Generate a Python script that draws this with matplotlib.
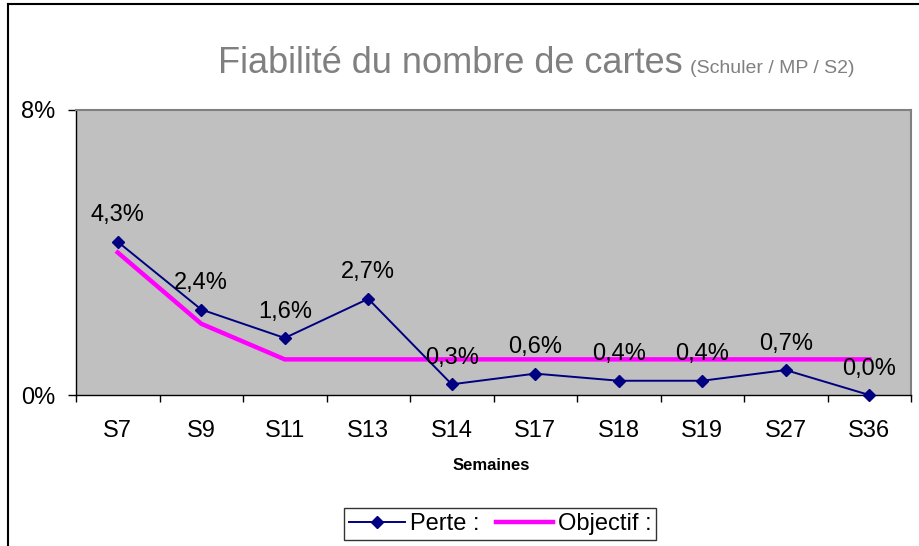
import matplotlib.pyplot as plt
import matplotlib.lines as mlines
import numpy as np

# ---- data ----
semaines = ['S7', 'S9', 'S11', 'S13', 'S14', 'S17', 'S18', 'S19', 'S27', 'S36']
perte = [4.3, 2.4, 1.6, 2.7, 0.3, 0.6, 0.4, 0.4, 0.7, 0.0]
objectif = [4.0, 2.0, 1.0, 1.0, 1.0, 1.0, 1.0, 1.0, 1.0, 1.0]

# ---- style ----
plt.rcParams['font.family'] = ['Liberation Sans', 'DejaVu Sans']
navy = '#000080'
magenta = '#FF00FF'
plot_bg = '#C0C0C0'
title_grey = '#808080'

W, H = 920, 546
fig = plt.figure(figsize=(9.2, 5.46), dpi=100, facecolor='white')
ax = fig.add_axes([76 / W, 1 - 395 / H, (911 - 76) / W, (395 - 110) / H])
ax.set_facecolor(plot_bg)

x = np.arange(len(semaines))
ax.plot(x, objectif, color=magenta, linewidth=3.2, solid_joinstyle='miter', zorder=2)
ax.plot(x, perte, color=navy, linewidth=1.4, marker='D', markersize=6, zorder=3,
        clip_on=False)

# data labels
for xi, v in zip(x, perte):
    ax.annotate(f'{v:.1f}%'.replace('.', ','), xy=(xi, v), xytext=(0, 19),
                textcoords='offset points', ha='center', va='center',
                fontsize=17, color='black', zorder=4)

ax.set_xlim(-0.5, len(semaines) - 0.5)
ax.set_ylim(0, 8)

# x axis: ticks between categories, labels at centers
ax.set_xticks(np.arange(-0.5, len(semaines)), labels=[])
ax.set_xticks(x, labels=semaines, minor=True)
ax.tick_params(axis='x', which='major', direction='out', length=5, width=1, color='black')
ax.tick_params(axis='x', which='minor', length=0, pad=18, labelsize=17)

ax.set_yticks([0, 8], labels=['0%', '8%'])
ax.tick_params(axis='y', direction='out', length=6, width=1, pad=9, labelsize=17)

for s in ['left', 'bottom']:
    ax.spines[s].set_color('black')
    ax.spines[s].set_linewidth(1)
for s in ['top', 'right']:
    ax.spines[s].set_color('#808080')
    ax.spines[s].set_linewidth(1.5)

fig.text(491 / W, 1 - 465 / H, 'Semaines', ha='center', va='center',
         fontsize=12, fontweight='bold', color='black')

# title
fig.text(683 / W, 1 - 73 / H, 'Fiabilité du nombre de cartes', ha='right',
         va='baseline', fontsize=26, color=title_grey)
fig.text(690 / W, 1 - 73 / H, '(Schuler / MP / S2)', ha='left',
         va='baseline', fontsize=14, color=title_grey)

# legend
h1 = mlines.Line2D([], [], color=navy, linewidth=1.4, marker='D', markersize=6)
h2 = mlines.Line2D([], [], color=magenta, linewidth=3.2)
leg = fig.legend([h1, h2], ['Perte :', 'Objectif :'], loc='center',
                 bbox_to_anchor=(500 / W, 1 - 524 / H), ncol=2, fontsize=17,
                 frameon=True, fancybox=False, edgecolor='black',
                 handlelength=2.4, handletextpad=0.2, columnspacing=0.7,
                 borderpad=0.2, borderaxespad=0)
leg.get_frame().set_linewidth(1)

# outer chart border (left and top)
fig.add_artist(mlines.Line2D([8 / W, 8 / W], [0, 1 - 4 / H], color='black', linewidth=1.5))
fig.add_artist(mlines.Line2D([8 / W, 1], [1 - 4 / H, 1 - 4 / H], color='black', linewidth=1.5))

fig.savefig('out.png', dpi=100, facecolor='white')
